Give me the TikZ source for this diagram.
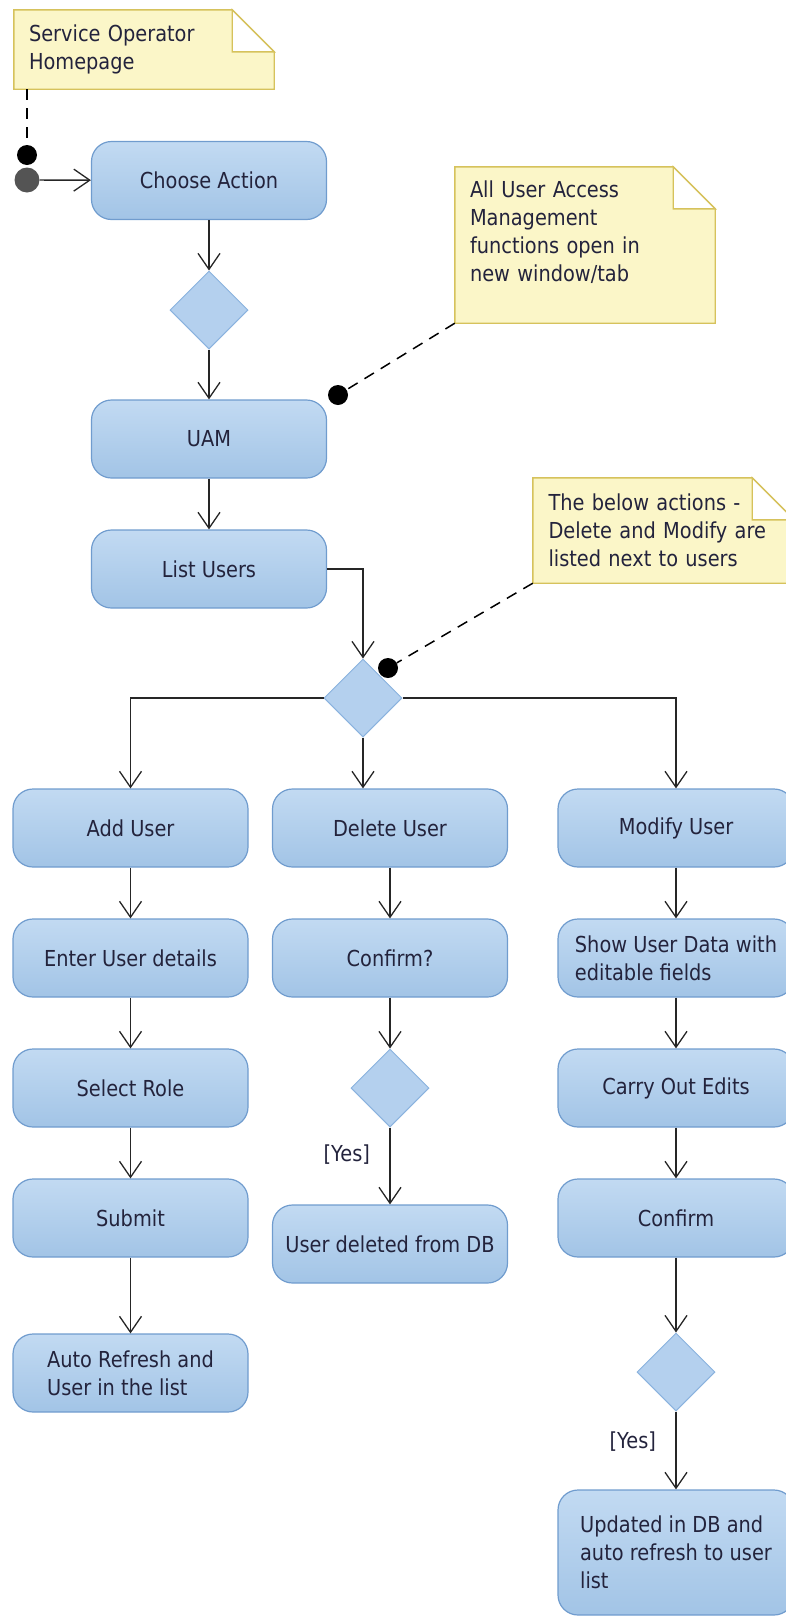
\documentclass[tikz,border=0pt]{standalone}
\usepackage{fontspec}
\setmainfont{DejaVu Sans}[FakeStretch=0.88]
\usetikzlibrary{shapes.geometric, arrows.meta, backgrounds}

\definecolor{actTop}{RGB}{194,218,242}
\definecolor{actBot}{RGB}{162,196,230}
\definecolor{actLine}{RGB}{112,156,206}
\definecolor{decFill}{RGB}{180,208,238}
\definecolor{decLine}{RGB}{138,178,222}
\definecolor{noteFill}{RGB}{251,246,200}
\definecolor{noteLine}{RGB}{214,194,92}
\definecolor{labelText}{RGB}{35,35,60}

\begin{document}
\begin{tikzpicture}[x=1pt, y=-1pt, font=\fontsize{22}{28}\selectfont,
    action/.style={rectangle, rounded corners=20pt, draw=actLine, line width=1.2pt, top color=actTop, bottom color=actBot, minimum width=235pt, minimum height=78pt, align=center, inner sep=2pt, text=labelText},
    decision/.style={diamond, draw=decLine, fill=decFill, line width=1pt, minimum width=78pt, minimum height=78pt, inner sep=0pt},
    note/.style={rectangle, minimum width=260pt, text width=230pt, align=left, inner sep=0pt, text=labelText},
    flow/.style={-{Straight Barb[length=16pt, width=22pt, line width=1.3pt]}, draw=black!85, line width=1.4pt},
    anchorline/.style={dash pattern=on 11pt off 8pt, line width=1.5pt},
    guard/.style={text=labelText}
]
    \useasboundingbox (0,0) rectangle (786,1617);
    \clip (0,0) rectangle (786,1617);

    % Notes
    \node[note, minimum height=79pt] (svcnote) at (144,49.5) {Service Operator\\Homepage};
    \node[note, minimum height=156pt] (uamnote) at (585,245) {All User Access\\Management\\functions open in\\new window/tab\\~};
    \node[note, minimum width=261pt, minimum height=105pt] (listnote) at (663.5,530.5) {The below actions -\\Delete and Modify are\\listed next to users};

    % Start
    \node[circle, fill=black!67, minimum size=25pt, inner sep=0pt] (init) at (27,180) {};
    \node[circle, fill=black, minimum size=20pt, inner sep=0pt] (anchorA) at (27,155) {};

    % Top of the flow
    \node[action] (choose) at (209,180.5) {Choose Action};
    \node[decision] (pick) at (209,310) {};
    \node[action] (uam) at (209,439) {UAM};
    \node[action] (listusers) at (209,569) {List Users};
    \node[decision] (split) at (363,698) {};

    % Add column
    \node[action] (adduser) at (130.5,828) {Add User};
    \node[action] (enterdet) at (130.5,958) {Enter User details};
    \node[action] (selrole) at (130.5,1088) {Select Role};
    \node[action] (submit) at (130.5,1218) {Submit};
    \node[action, align=left] (autoref) at (130.5,1373) {Auto Refresh and\\User in the list};

    % Delete column
    \node[action] (deluser) at (390,828) {Delete User};
    \node[action] (confdel) at (390,958) {Confirm?};
    \node[decision] (deldec) at (390,1088) {};
    \node[action] (deleted) at (390,1244) {User deleted from DB};

    % Modify column
    \node[action, minimum width=236pt] (moduser) at (676,828) {Modify User};
    \node[action, minimum width=236pt, align=left] (showdata) at (676,958) {Show User Data with\\editable fields};
    \node[action, minimum width=236pt] (edits) at (676,1088) {Carry Out Edits};
    \node[action, minimum width=236pt] (confmod) at (676,1218) {Confirm};
    \node[decision] (moddec) at (676,1372) {};
    \node[action, minimum width=236pt, minimum height=125pt, align=left] (updated) at (676,1552.5) {Updated in DB and\\auto refresh to user\\list};

    % Note anchors
    \node[circle, fill=black, minimum size=20pt, inner sep=0pt] (anchorB) at (338,395) {};
    \node[circle, fill=black, minimum size=20pt, inner sep=0pt] (anchorC) at (388,668) {};
    \draw[anchorline] (svcnote.south -| anchorA) -- (anchorA);
    \draw[anchorline] (uamnote.south west) -- (anchorB);
    \draw[anchorline] (listnote.south west) -- (anchorC);

    % Note shapes with folded corner
    \begin{scope}[on background layer]
        \foreach \n in {svcnote, uamnote, listnote} {
            \filldraw[fill=noteFill, draw=noteLine, line width=1.4pt] (\n.south west) -- (\n.north west) -- ([xshift=-42pt]\n.north east) -- ([yshift=-42pt]\n.north east) -- (\n.south east) -- cycle;
            \filldraw[fill=white, draw=noteLine, line width=1.4pt] ([xshift=-42pt]\n.north east) -- ([xshift=-42pt, yshift=-42pt]\n.north east) -- ([yshift=-42pt]\n.north east) -- cycle;
        }
    \end{scope}

    % Connections
    \draw[flow] (init) -- (choose);
    \draw[flow] (choose) -- (pick);
    \draw[flow] (pick) -- (uam);
    \draw[flow] (uam) -- (listusers);
    \draw[flow] (listusers.east) -| (split.north);
    \draw[flow] (split.west) -| (adduser.north);
    \draw[flow] (split.east) -| (moduser.north);
    \draw[flow] (split.south) -- (split.south |- deluser.north);
    \foreach \a/\b in {adduser/enterdet, enterdet/selrole, selrole/submit, submit/autoref, deluser/confdel, confdel/deldec, moduser/showdata, showdata/edits, edits/confmod, confmod/moddec}
        \draw[flow] (\a) -- (\b);
    \draw[flow] (deldec) -- node[guard, pos=0.35, anchor=east, xshift=-16pt] (yesdel) {[Yes]} (deleted);
    \draw[flow] (moddec) -- node[guard, pos=0.38, anchor=east, xshift=-16pt] (yesmod) {[Yes]} (updated);
\end{tikzpicture}
\end{document}
